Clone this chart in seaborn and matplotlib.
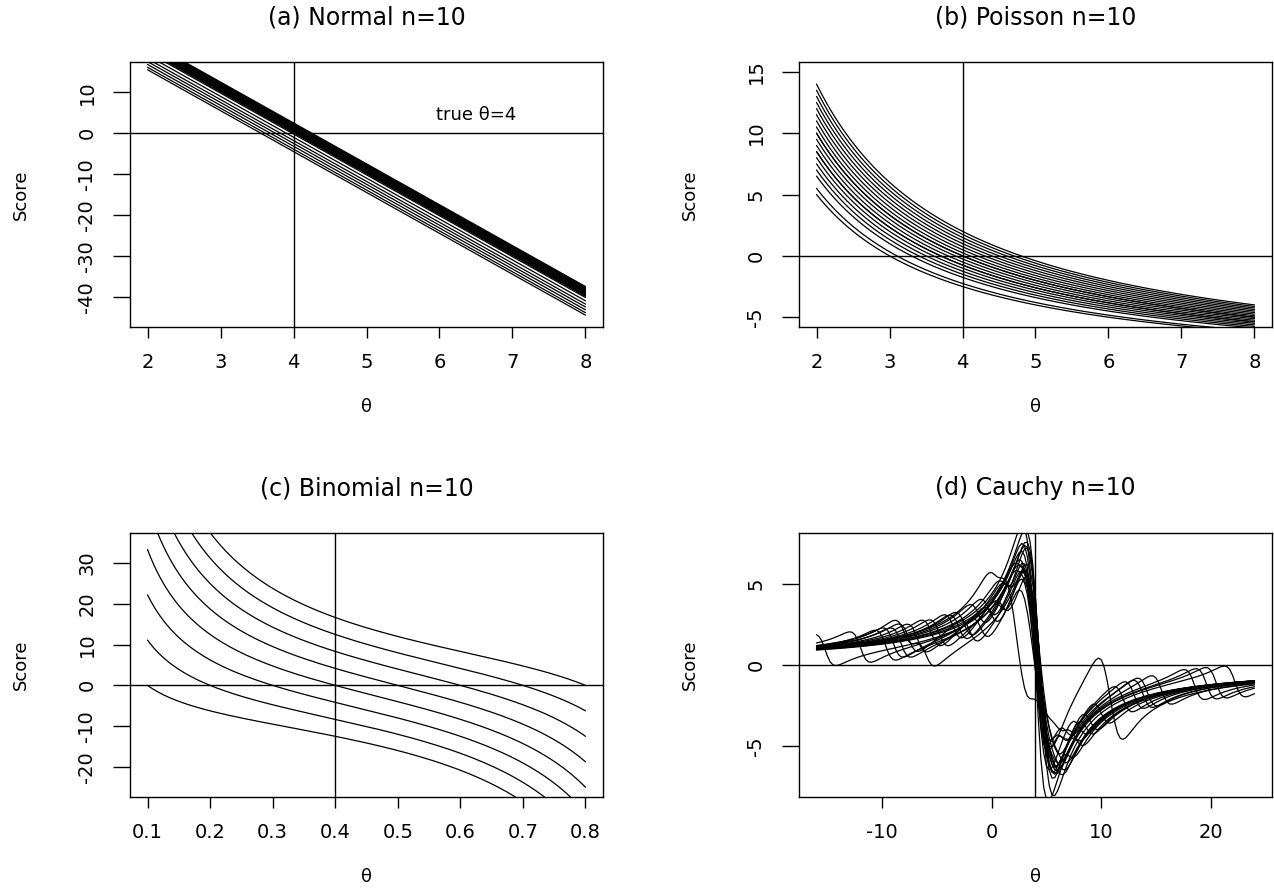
import numpy as np
import pandas as pd
import matplotlib
matplotlib.use("Agg")
import matplotlib.pyplot as plt
import seaborn as sns

# ---------------- data ----------------
# (a) Normal: sample means of the 20 simulated samples (n=10, sigma=1)
normal_n = 10
normal_means = [4.25, 4.23, 4.21, 4.19, 4.17, 4.15, 4.13, 4.11, 4.09, 4.07,
                4.05, 4.03, 4.01, 3.98, 3.90, 3.82, 3.75, 3.68, 3.61, 3.55]
normal_theta = (2.0, 8.0)

# (b) Poisson: sample sums of the 20 simulated samples (n=10)
poisson_n = 10
poisson_sums = [30, 31, 33, 34, 35, 36, 37, 37, 38, 39,
                40, 40, 41, 42, 43, 44, 45, 46, 47, 48]
poisson_theta = (2.0, 8.0)

# (c) Binomial: number of successes out of 10 trials
binom_trials = 10
binom_successes = [1, 2, 3, 4, 5, 6, 7, 8]
binom_theta = (0.1, 0.8)

# (d) Cauchy: 20 samples of size 10 (location 4)
cauchy_samples = [
    [-15.2, 3.3, 3.6, 3.8, 4.0, 4.2, 4.5, 4.9, 5.4, 6.1],
    [-9.0, 1.5, 3.5, 3.7, 3.9, 4.05, 4.2, 4.4, 4.8, 8.0],
    [-7.6, -2.0, 3.2, 3.6, 3.9, 4.2, 4.6, 5.0, 5.6, 6.4],
    [-8.3, 3.7, 3.95, 4.15, 4.3, 4.45, 4.6, 4.8, 5.1, 9.0],
    [-5.5, -1.0, 3.6, 3.85, 4.05, 4.3, 4.6, 4.9, 5.3, 12.0],
    [-3.5, 0.8, 3.0, 3.4, 3.8, 4.1, 4.4, 4.9, 6.8, 13.8],
    [3.2, 3.6, 3.85, 4.0, 4.2, 4.5, 5.0, 10.4, 10.8, 11.3],
    [3.4, 3.6, 3.75, 3.9, 4.0, 4.1, 4.2, 4.35, 4.6, 19.6],
    [3.6, 3.85, 4.1, 4.25, 4.35, 4.45, 4.6, 4.85, 5.2, 22.2],
    [0.3, 1.6, 2.0, 2.3, 2.6, 3.0, 4.2, 5.0, 6.0, 7.5],
    [-6.8, 0.0, 3.2, 3.6, 3.85, 4.05, 4.3, 4.6, 6.4, 14.2],
    [-9.7, 2.8, 3.8, 4.05, 4.25, 4.4, 4.6, 4.9, 5.6, 18.5],
    [-4.8, 1.0, 3.7, 4.0, 4.25, 4.5, 4.8, 5.2, 5.9, 8.6],
    [-12.0, 2.5, 3.5, 3.8, 4.05, 4.3, 4.6, 5.0, 5.5, 6.3],
    [-2.5, 3.5, 3.9, 4.1, 4.3, 4.45, 4.6, 4.8, 5.1, 7.0],
    [-1.2, 3.0, 3.4, 3.7, 3.95, 4.1, 4.3, 4.6, 6.5, 10.0],
    [-8.0, -6.0, 3.8, 4.0, 4.2, 4.4, 4.65, 4.95, 5.4, 13.0],
    [1.2, 3.3, 3.7, 3.9, 4.05, 4.2, 4.4, 4.8, 5.6, 20.5],
    [-0.3, 3.7, 3.95, 4.15, 4.3, 4.45, 4.65, 4.9, 5.3, 7.8],
    [-3.0, 2.6, 3.5, 3.8, 4.05, 4.3, 4.6, 5.0, 5.8, 15.5],
]
cauchy_theta = (-16.0, 24.0)

true_theta = [4, 4, 0.4, 4]
titles = ["(a) Normal n=10", "(b) Poisson n=10", "(c) Binomial n=10", "(d) Cauchy n=10"]
note_text = "true \u03b8=4"

x_ticks = [[2, 3, 4, 5, 6, 7, 8], [2, 3, 4, 5, 6, 7, 8],
           [0.1, 0.2, 0.3, 0.4, 0.5, 0.6, 0.7, 0.8], [-10, 0, 10, 20]]
x_ticklabels = [["2", "3", "4", "5", "6", "7", "8"], ["2", "3", "4", "5", "6", "7", "8"],
                ["0.1", "0.2", "0.3", "0.4", "0.5", "0.6", "0.7", "0.8"],
                ["-10", "0", "10", "20"]]
y_ticks = [[-40, -30, -20, -10, 0, 10], [-5, 0, 5, 10, 15],
           [-20, -10, 0, 10, 20, 30], [-5, 0, 5]]
y_ranges = [(-45, 15), (-5, 15), (-25, 35), (-7.5, 7.5)]

# ---------------- score curves ----------------
def frame(rows):
    return pd.DataFrame(rows, columns=["curve", "theta", "score"])

rows = []
th = np.linspace(*normal_theta, 61)
for i, m in enumerate(normal_means):
    for t in th:
        rows.append((i, t, normal_n * (m - t)))
df_norm = frame(rows)

rows = []
th = np.linspace(*poisson_theta, 121)
for i, s in enumerate(poisson_sums):
    for t in th:
        rows.append((i, t, s / t - poisson_n))
df_pois = frame(rows)

rows = []
th = np.linspace(*binom_theta, 141)
for i, k in enumerate(binom_successes):
    for t in th:
        rows.append((i, t, k / t - (binom_trials - k) / (1 - t)))
df_bin = frame(rows)

rows = []
th = np.linspace(*cauchy_theta, 161)
for i, smp in enumerate(cauchy_samples):
    x = np.array(smp)
    for t in th:
        u = x - t
        rows.append((i, t, float(np.sum(2 * u / (1 + u ** 2)))))
df_cau = frame(rows)

frames = [df_norm, df_pois, df_bin, df_cau]
x_ranges = [normal_theta, poisson_theta, binom_theta, cauchy_theta]

# ---------------- figure ----------------
sns.set_theme(style="white")
plt.rcParams['font.family'] = ['DejaVu Sans']
plt.rcParams['axes.unicode_minus'] = False

W, H = 1274, 891
fig = plt.figure(figsize=(W / 100, H / 100), dpi=100)
fig.patch.set_facecolor("white")

boxes = [(130, 62, 473, 265), (799, 62, 473, 265),
         (130, 533, 473, 264), (799, 533, 473, 264)]

for k in range(4):
    L, T, w, h = boxes[k]
    ax = fig.add_axes([L / W, 1 - (T + h) / H, w / W, h / H])
    ax.set_facecolor("white")
    sns.lineplot(data=frames[k], x="theta", y="score", units="curve",
                 estimator=None, color="black", linewidth=0.9, ax=ax,
                 legend=False)
    ax.axvline(true_theta[k], color="black", linewidth=1.0)
    ax.axhline(0, color="black", linewidth=1.0)

    x0, x1 = x_ranges[k]
    px = 0.04 * (x1 - x0)
    ax.set_xlim(x0 - px, x1 + px)
    y0, y1 = y_ranges[k]
    py = 0.04 * (y1 - y0)
    ax.set_ylim(y0 - py, y1 + py)

    ax.set_xticks(x_ticks[k])
    ax.set_xticklabels(x_ticklabels[k])
    ax.set_yticks(y_ticks[k])
    ax.set_yticklabels([str(v) for v in y_ticks[k]])

    for sp in ax.spines.values():
        sp.set_visible(True)
        sp.set_color("black")
        sp.set_linewidth(1.0)

    ax.tick_params(axis="x", direction="out", length=8, width=1.0,
                   pad=11, labelsize=14, colors="black", bottom=True)
    ax.tick_params(axis="y", direction="out", length=12, width=1.0,
                   pad=19, labelsize=14, colors="black", left=True)
    for lab in ax.get_yticklabels():
        lab.set_rotation(90)
        lab.set_verticalalignment("center")
        lab.set_horizontalalignment("center")

    ax.set_xlabel("\u03b8", fontsize=13, color="black", va="center")
    ax.xaxis.set_label_coords(0.5, -80 / h)
    ax.set_ylabel("Score", fontsize=13, color="black", va="center")
    ax.yaxis.set_label_coords(-109 / w, 0.5)

    ax.set_title(titles[k], fontsize=17, color="black", pad=27)
    ax.grid(False)

    if k == 0:
        ax.text(6.5, 4.4, note_text, ha="center", va="center",
                fontsize=13, color="black")

fig.savefig("out.png", dpi=100, facecolor="white")
